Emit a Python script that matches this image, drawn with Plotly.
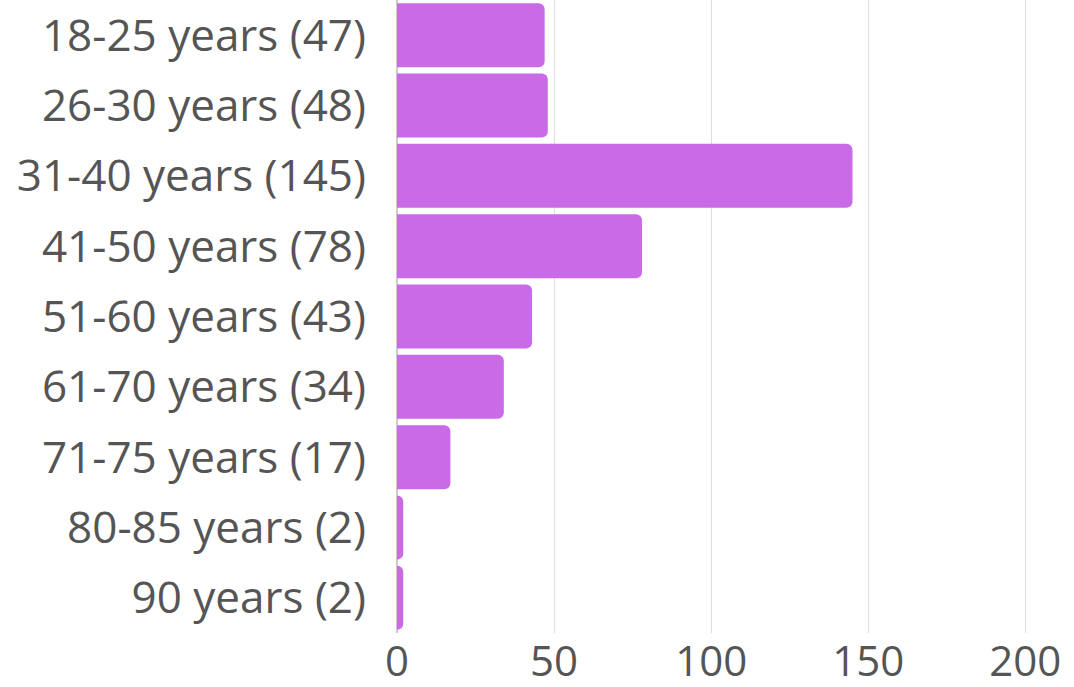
import plotly.graph_objects as go

categories = ["18-25 years (47)", "26-30 years (48)", "31-40 years (145)", "41-50 years (78)",
              "51-60 years (43)", "61-70 years (34)", "71-75 years (17)", "80-85 years (2)", "90 years (2)"]
values = [47, 48, 145, 78, 43, 34, 17, 2, 2]
tick_vals = [0, 50, 100, 150, 200]

fig = go.Figure(go.Bar(
    x=values, y=categories, orientation="h",
    marker=dict(color="#C96BE6", cornerradius=6, line=dict(width=0)),
))
fig.update_layout(
    width=1074, height=687,
    margin=dict(l=397, r=33, t=0, b=54),
    paper_bgcolor="white", plot_bgcolor="white",
    bargap=0.09,
    showlegend=False,
    font=dict(family="Open Sans", size=44, color="#555555"),
)
fig.update_xaxes(range=[0, 205], tickvals=tick_vals, showgrid=True, gridcolor="#DDDDDD", gridwidth=1,
                 zeroline=True, zerolinecolor="#CCCCCC", zerolinewidth=2, showline=False,
                 ticks="", ticklabelstandoff=0, automargin=False, tickfont=dict(size=42))
fig.update_yaxes(categoryorder="array", categoryarray=categories, autorange="reversed",
                 showgrid=False, showline=False, ticks="", ticklabelstandoff=30, automargin=False)
fig.write_html("out.html", config={"displayModeBar": False},
               post_script="document.body.style.margin='0px';document.body.style.overflow='hidden';")
